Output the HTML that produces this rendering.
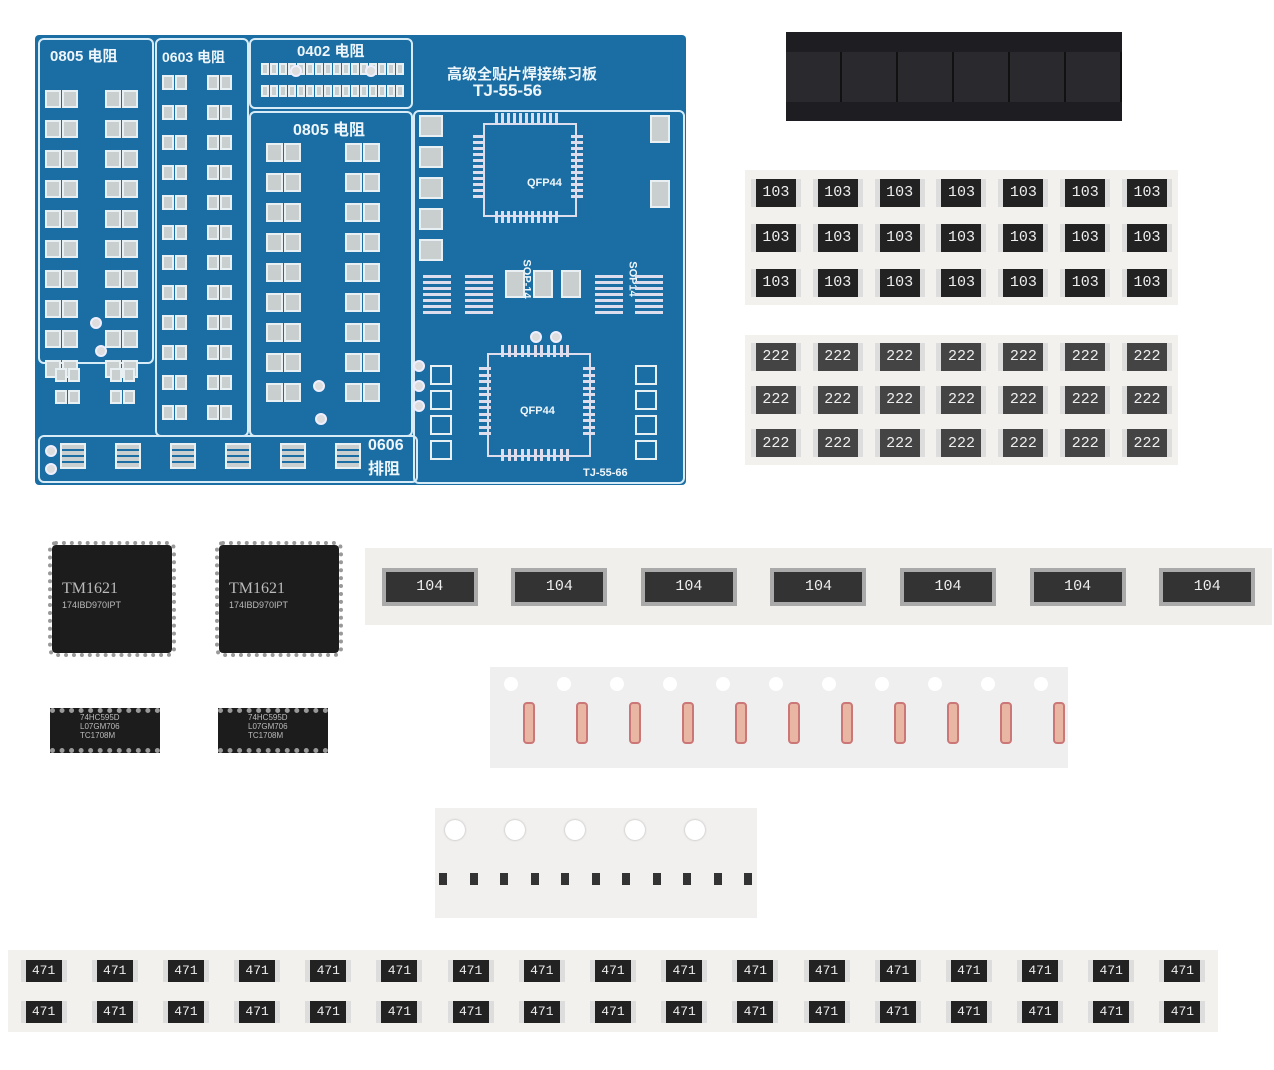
<!DOCTYPE html>
<html><head><meta charset="utf-8"><style>
body{margin:0;width:1274px;height:1070px;background:#fff;position:relative;overflow:hidden;font-family:"Liberation Sans","Noto Sans CJK SC",sans-serif}
.a{position:absolute}
#pcb{left:35px;top:35px;width:651px;height:450px;background:#1b6ea3;border-radius:4px}
.box{position:absolute;border:2px solid #d8ecf7;border-radius:6px}
.t{position:absolute;color:#eef6fb;font-weight:bold;font-size:15px;white-space:nowrap}
.g{position:absolute;display:grid}
.cell{display:flex;align-items:center;justify-content:center}
.chip{background:#222;color:#eee;font-size:15px;font-family:"Liberation Mono",monospace;display:flex;align-items:center;justify-content:center;border-left:5px solid #ddd;border-right:5px solid #ddd}
.ic{position:absolute;background:#1c1c1c;border-radius:4px;color:#bbb}
</style></head><body>
<div id="pcb" class="a">
 <div class="box" style="left:3px;top:3px;width:112px;height:322px"></div>
 <div class="box" style="left:120px;top:3px;width:90px;height:395px"></div>
 <div class="box" style="left:214px;top:3px;width:160px;height:67px"></div>
 <div class="box" style="left:214px;top:76px;width:160px;height:322px"></div>
 <div class="box" style="left:378px;top:75px;width:268px;height:370px"></div>
 <div class="box" style="left:3px;top:400px;width:376px;height:44px"></div>
 <div class="t" style="left:15px;top:10px">0805 电阻</div>
 <div class="t" style="left:127px;top:12px;font-size:14px">0603 电阻</div>
 <div class="t" style="left:262px;top:5px;font-size:15px">0402 电阻</div>
 <div class="t" style="left:258px;top:81px;font-size:16px">0805 电阻</div>
 <div class="t" style="left:412px;top:28px;font-size:15px">高级全贴片焊接练习板</div>
 <div class="t" style="left:438px;top:46px;font-size:17px">TJ-55-56</div>
 <div class="t" style="left:333px;top:402px;font-size:16px">0606<br>排阻</div>
 <div class="t" style="left:548px;top:432px;font-size:11px">TJ-55-66</div>
 <div class="a" style="left:448px;top:88px;width:90px;height:90px;border:2px solid #dde"></div>
 <div class="t" style="left:492px;top:142px;font-size:11px">QFP44</div>
 <div class="a" style="left:452px;top:318px;width:100px;height:100px;border:2px solid #dde"></div>
 <div class="t" style="left:485px;top:370px;font-size:11px">QFP44</div>
 <div class="t" style="left:472px;top:238px;font-size:11px;transform:rotate(90deg)">SOP-14</div>
 <div class="t" style="left:580px;top:238px;font-size:11px;transform:rotate(90deg)">SOP14</div>
 <div id="pads"></div>
</div>
<div class="a" style="left:786px;top:32px;width:336px;height:89px;background:#1e1e22">
 <div class="a" style="left:0;top:20px;width:336px;height:50px;background:repeating-linear-gradient(90deg,#2a2a2e 0 54px,#111 54px 56px)"></div>
</div>
<div class="g" style="left:745px;top:170px;width:433px;height:135px;grid-template-columns:repeat(7,1fr);grid-template-rows:repeat(3,1fr);background:#f2f1ee">
<div class="cell"><div class="chip" style="width:40px;height:28px">103</div></div><div class="cell"><div class="chip" style="width:40px;height:28px">103</div></div><div class="cell"><div class="chip" style="width:40px;height:28px">103</div></div><div class="cell"><div class="chip" style="width:40px;height:28px">103</div></div><div class="cell"><div class="chip" style="width:40px;height:28px">103</div></div><div class="cell"><div class="chip" style="width:40px;height:28px">103</div></div><div class="cell"><div class="chip" style="width:40px;height:28px">103</div></div>
<div class="cell"><div class="chip" style="width:40px;height:28px">103</div></div><div class="cell"><div class="chip" style="width:40px;height:28px">103</div></div><div class="cell"><div class="chip" style="width:40px;height:28px">103</div></div><div class="cell"><div class="chip" style="width:40px;height:28px">103</div></div><div class="cell"><div class="chip" style="width:40px;height:28px">103</div></div><div class="cell"><div class="chip" style="width:40px;height:28px">103</div></div><div class="cell"><div class="chip" style="width:40px;height:28px">103</div></div>
<div class="cell"><div class="chip" style="width:40px;height:28px">103</div></div><div class="cell"><div class="chip" style="width:40px;height:28px">103</div></div><div class="cell"><div class="chip" style="width:40px;height:28px">103</div></div><div class="cell"><div class="chip" style="width:40px;height:28px">103</div></div><div class="cell"><div class="chip" style="width:40px;height:28px">103</div></div><div class="cell"><div class="chip" style="width:40px;height:28px">103</div></div><div class="cell"><div class="chip" style="width:40px;height:28px">103</div></div>
</div>
<div class="g" style="left:745px;top:335px;width:433px;height:130px;grid-template-columns:repeat(7,1fr);grid-template-rows:repeat(3,1fr);background:#f2f1ee">
<div class="cell"><div class="chip" style="width:40px;height:28px;background:#444">222</div></div><div class="cell"><div class="chip" style="width:40px;height:28px;background:#444">222</div></div><div class="cell"><div class="chip" style="width:40px;height:28px;background:#444">222</div></div><div class="cell"><div class="chip" style="width:40px;height:28px;background:#444">222</div></div><div class="cell"><div class="chip" style="width:40px;height:28px;background:#444">222</div></div><div class="cell"><div class="chip" style="width:40px;height:28px;background:#444">222</div></div><div class="cell"><div class="chip" style="width:40px;height:28px;background:#444">222</div></div>
<div class="cell"><div class="chip" style="width:40px;height:28px;background:#444">222</div></div><div class="cell"><div class="chip" style="width:40px;height:28px;background:#444">222</div></div><div class="cell"><div class="chip" style="width:40px;height:28px;background:#444">222</div></div><div class="cell"><div class="chip" style="width:40px;height:28px;background:#444">222</div></div><div class="cell"><div class="chip" style="width:40px;height:28px;background:#444">222</div></div><div class="cell"><div class="chip" style="width:40px;height:28px;background:#444">222</div></div><div class="cell"><div class="chip" style="width:40px;height:28px;background:#444">222</div></div>
<div class="cell"><div class="chip" style="width:40px;height:28px;background:#444">222</div></div><div class="cell"><div class="chip" style="width:40px;height:28px;background:#444">222</div></div><div class="cell"><div class="chip" style="width:40px;height:28px;background:#444">222</div></div><div class="cell"><div class="chip" style="width:40px;height:28px;background:#444">222</div></div><div class="cell"><div class="chip" style="width:40px;height:28px;background:#444">222</div></div><div class="cell"><div class="chip" style="width:40px;height:28px;background:#444">222</div></div><div class="cell"><div class="chip" style="width:40px;height:28px;background:#444">222</div></div>
</div>
<div class="ic" style="left:52px;top:545px;width:120px;height:108px;outline:4px dotted #999;outline-offset:0"><div style="position:absolute;left:10px;top:35px;font:16px 'Liberation Serif',serif">TM1621</div><div style="position:absolute;left:10px;top:55px;font-size:9px">174IBD970IPT</div></div>
<div class="ic" style="left:219px;top:545px;width:120px;height:108px;outline:4px dotted #999"><div style="position:absolute;left:10px;top:35px;font:16px 'Liberation Serif',serif">TM1621</div><div style="position:absolute;left:10px;top:55px;font-size:9px">174IBD970IPT</div></div>
<div class="ic" style="left:50px;top:708px;width:110px;height:45px;border-top:5px dotted #999;border-bottom:5px dotted #999;border-radius:0;font-size:8px;padding-left:30px;box-sizing:border-box">74HC595D<br>L07GM706<br>TC1708M</div>
<div class="ic" style="left:218px;top:708px;width:110px;height:45px;border-top:5px dotted #999;border-bottom:5px dotted #999;border-radius:0;font-size:8px;padding-left:30px;box-sizing:border-box">74HC595D<br>L07GM706<br>TC1708M</div>
<div class="g" style="left:365px;top:548px;width:907px;height:77px;grid-template-columns:repeat(7,1fr);background:#f0efec">
<div class="cell"><div class="chip" style="width:88px;height:30px;background:#333;border-width:0;outline:4px solid #aaa">104</div></div><div class="cell"><div class="chip" style="width:88px;height:30px;background:#333;border-width:0;outline:4px solid #aaa">104</div></div><div class="cell"><div class="chip" style="width:88px;height:30px;background:#333;border-width:0;outline:4px solid #aaa">104</div></div><div class="cell"><div class="chip" style="width:88px;height:30px;background:#333;border-width:0;outline:4px solid #aaa">104</div></div><div class="cell"><div class="chip" style="width:88px;height:30px;background:#333;border-width:0;outline:4px solid #aaa">104</div></div><div class="cell"><div class="chip" style="width:88px;height:30px;background:#333;border-width:0;outline:4px solid #aaa">104</div></div><div class="cell"><div class="chip" style="width:88px;height:30px;background:#333;border-width:0;outline:4px solid #aaa">104</div></div>
</div>
<div class="a" style="left:490px;top:667px;width:578px;height:101px;background:#efefef" id="diodes"></div>
<div class="a" style="left:435px;top:808px;width:322px;height:110px;background:#f1f0ee;overflow:hidden" id="caps"></div>
<div class="g" style="left:8px;top:950px;width:1210px;height:82px;grid-template-columns:repeat(17,1fr);grid-template-rows:repeat(2,1fr);background:#f2f1ee">
<div class="cell"><div class="chip" style="width:36px;height:22px;font-size:13px">471</div></div><div class="cell"><div class="chip" style="width:36px;height:22px;font-size:13px">471</div></div><div class="cell"><div class="chip" style="width:36px;height:22px;font-size:13px">471</div></div><div class="cell"><div class="chip" style="width:36px;height:22px;font-size:13px">471</div></div><div class="cell"><div class="chip" style="width:36px;height:22px;font-size:13px">471</div></div><div class="cell"><div class="chip" style="width:36px;height:22px;font-size:13px">471</div></div><div class="cell"><div class="chip" style="width:36px;height:22px;font-size:13px">471</div></div><div class="cell"><div class="chip" style="width:36px;height:22px;font-size:13px">471</div></div><div class="cell"><div class="chip" style="width:36px;height:22px;font-size:13px">471</div></div><div class="cell"><div class="chip" style="width:36px;height:22px;font-size:13px">471</div></div><div class="cell"><div class="chip" style="width:36px;height:22px;font-size:13px">471</div></div><div class="cell"><div class="chip" style="width:36px;height:22px;font-size:13px">471</div></div><div class="cell"><div class="chip" style="width:36px;height:22px;font-size:13px">471</div></div><div class="cell"><div class="chip" style="width:36px;height:22px;font-size:13px">471</div></div><div class="cell"><div class="chip" style="width:36px;height:22px;font-size:13px">471</div></div><div class="cell"><div class="chip" style="width:36px;height:22px;font-size:13px">471</div></div><div class="cell"><div class="chip" style="width:36px;height:22px;font-size:13px">471</div></div>
<div class="cell"><div class="chip" style="width:36px;height:22px;font-size:13px">471</div></div><div class="cell"><div class="chip" style="width:36px;height:22px;font-size:13px">471</div></div><div class="cell"><div class="chip" style="width:36px;height:22px;font-size:13px">471</div></div><div class="cell"><div class="chip" style="width:36px;height:22px;font-size:13px">471</div></div><div class="cell"><div class="chip" style="width:36px;height:22px;font-size:13px">471</div></div><div class="cell"><div class="chip" style="width:36px;height:22px;font-size:13px">471</div></div><div class="cell"><div class="chip" style="width:36px;height:22px;font-size:13px">471</div></div><div class="cell"><div class="chip" style="width:36px;height:22px;font-size:13px">471</div></div><div class="cell"><div class="chip" style="width:36px;height:22px;font-size:13px">471</div></div><div class="cell"><div class="chip" style="width:36px;height:22px;font-size:13px">471</div></div><div class="cell"><div class="chip" style="width:36px;height:22px;font-size:13px">471</div></div><div class="cell"><div class="chip" style="width:36px;height:22px;font-size:13px">471</div></div><div class="cell"><div class="chip" style="width:36px;height:22px;font-size:13px">471</div></div><div class="cell"><div class="chip" style="width:36px;height:22px;font-size:13px">471</div></div><div class="cell"><div class="chip" style="width:36px;height:22px;font-size:13px">471</div></div><div class="cell"><div class="chip" style="width:36px;height:22px;font-size:13px">471</div></div><div class="cell"><div class="chip" style="width:36px;height:22px;font-size:13px">471</div></div>
</div>
<script>
function add(p,x,y,w,h,css){var d=document.createElement('div');d.className='a';d.style.cssText+='left:'+x+'px;top:'+y+'px;width:'+w+'px;height:'+h+'px;'+css;p.appendChild(d);}
var P=document.getElementById('pads');
var PC='border:2px solid #e8f0f4;background:#c9cfcf;box-sizing:border-box';
function pair(x,y,w,h){add(P,x,y,w,h,PC);add(P,x+w+1,y,w,h,PC);}
for(var i=0;i<10;i++){pair(10,55+i*30,16,18);pair(70,55+i*30,16,18);}
for(var i=0;i<2;i++){pair(20,333+i*22,12,14);pair(75,333+i*22,12,14);}
for(var i=0;i<12;i++){pair(127,40+i*30,12,15);pair(172,40+i*30,12,15);}
for(var i=0;i<8;i++){pair(226+i*18,28,8,12);pair(226+i*18,50,8,12);}
for(var i=0;i<9;i++){pair(231,108+i*30,17,19);pair(310,108+i*30,17,19);}
for(var i=0;i<6;i++){add(P,25+i*55,408,26,26,'border:2px solid #e8f0f4;background:repeating-linear-gradient(0deg,#c9cfcf 0 4px,#1b6ea3 4px 6px);box-sizing:border-box');}
for(var i=0;i<5;i++){add(P,384,80+i*31,24,22,PC);}
for(var i=0;i<2;i++)add(P,615,80+i*65,20,28,PC);
for(var i=0;i<3;i++)add(P,470+i*28,235,20,28,PC);
function qfp(x,y,s){var n=11;for(var i=0;i<n;i++){var o=x+8+i*(s-16)/n;add(P,o,y-14,3,12,'background:#dde');add(P,o,y+s+2,3,12,'background:#dde');add(P,x-14,y+8+i*(s-16)/n,12,3,'background:#dde');add(P,x+s+2,y+8+i*(s-16)/n,12,3,'background:#dde');}}
qfp(452,92,82);qfp(458,324,88);
for(var i=0;i<7;i++){add(P,388,240+i*6,28,3,'background:#dde');add(P,430,240+i*6,28,3,'background:#dde');add(P,560,240+i*6,28,3,'background:#dde');add(P,600,240+i*6,28,3,'background:#dde');}
for(var i=0;i<4;i++){add(P,395,330+i*25,22,20,'border:2px solid #e8f0f4;box-sizing:border-box');add(P,600,330+i*25,22,20,'border:2px solid #e8f0f4;box-sizing:border-box');}
[[55,282],[60,310],[255,30],[330,30],[278,345],[280,378],[495,296],[515,296],[378,325],[378,345],[378,365],[10,410],[10,428]].forEach(function(c){add(P,c[0],c[1],12,12,'border-radius:50%;background:#ddd;border:2px solid #eef;box-sizing:border-box');});
var D=document.getElementById('diodes');
for(var i=0;i<11;i++){add(D,14+i*53,10,14,14,'border-radius:50%;background:#fff');add(D,33+i*53,35,12,42,'background:#e9b6a4;border:2px solid #c77;border-radius:4px;box-sizing:border-box');}
var C=document.getElementById('caps');
for(var i=0;i<5;i++)add(C,10+i*60,12,20,20,'border-radius:50%;background:#fff;box-shadow:0 0 2px #aaa');
for(var i=0;i<11;i++)add(C,4+i*30.5,65,8,12,'background:#333');
</script>
</body></html>
